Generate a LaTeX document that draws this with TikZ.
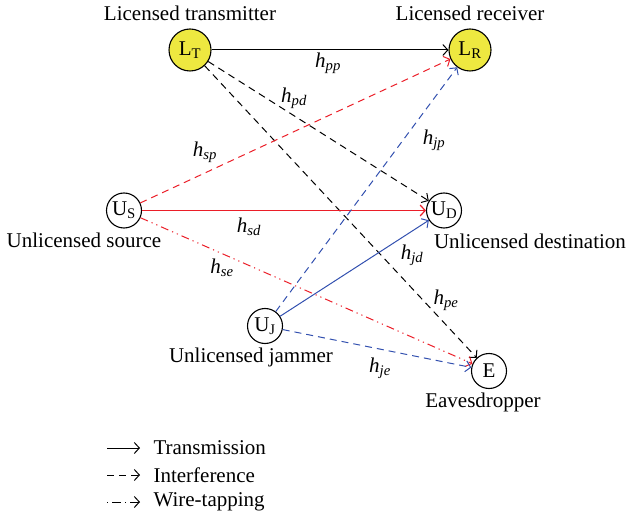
\documentclass[tikz,border=0pt]{standalone}
\usepackage{fontspec}
\setmainfont{Liberation Serif}
\usetikzlibrary{arrows.meta}
\definecolor{cred}{RGB}{235,30,40}
\definecolor{cblue}{RGB}{50,80,175}
\definecolor{cyel}{RGB}{238,232,64}
\newcommand\hh[1]{$\mathit{h}_{\mathit{#1}}$}
\begin{document}
\begin{tikzpicture}[x=1pt,y=-1pt,
  every node/.style={font=\fontsize{21}{25}\selectfont},
  dev/.style={circle,draw,line width=1.1pt,inner sep=0pt,minimum size=35pt},
  lic/.style={dev,fill=cyel,minimum size=42pt},
  lbl/.style={inner sep=1pt},
  link/.style={line width=1pt,-{Straight Barb[length=5pt,width=11pt]}},
  dsh/.style={dash pattern=on 7pt off 5pt},
  tap/.style={dash pattern=on 8pt off 4pt on 1.2pt off 4pt on 1.2pt off 4pt}]
\useasboundingbox (0,0) rectangle (628,518);
\node[lic] (LT) at (190,50) {$\mathrm{L}_{\mathrm{T}}$};
\node[lic] (LR) at (470,50) {$\mathrm{L}_{\mathrm{R}}$};
\node[dev] (US) at (124,210.5) {$\mathrm{U}_{\mathrm{S}}$};
\node[dev] (UD) at (444,210.5) {$\mathrm{U}_{\mathrm{D}}$};
\node[dev] (UJ) at (265,326) {$\mathrm{U}_{\mathrm{J}}$};
\node[dev] (E) at (489,371) {E};
\node (tLT) at (190,13) {Licensed transmitter};
\node (tLR) at (470,13) {Licensed receiver};
\node (tUS) at (84,240) {Unlicensed source};
\node (tUD) at (530,241) {Unlicensed destination};
\node (tUJ) at (251,357) {Unlicensed jammer};
\node (tE) at (483,402) {Eavesdropper};
% links
\draw[link] (LT) -- (LR);
\draw[link,dsh] (LT) -- (UD);
\draw[link,dsh] (LT) -- (E);
\draw[link,dsh,cred] (US) -- (LR);
\draw[link,cred,line width=1.2pt] (US) -- (UD);
\draw[link,tap,cred] (US) -- (E);
\draw[link,dsh,cblue] (UJ) -- (LR);
\draw[link,cblue] (UJ) -- (UD);
\draw[link,dsh,cblue] (UJ) -- (E);
% labels
\node[lbl] (lpp) at (328,63) {\hh{pp}};
\node[lbl] (lpd) at (294,98) {\hh{pd}};
\node[lbl] (ljp) at (434,140) {\hh{jp}};
\node[lbl] (lsp) at (205,152) {\hh{sp}};
\node[lbl] (lsd) at (249,227) {\hh{sd}};
\node[lbl] (lse) at (222,268) {\hh{se}};
\node[lbl] (ljd) at (412,255) {\hh{jd}};
\node[lbl] (lpe) at (446,300) {\hh{pe}};
\node[lbl] (lje) at (380,368) {\hh{je}};
% legend
\coordinate (a1) at (107,448); \coordinate (b1) at (140,448);
\coordinate (a2) at (107,475); \coordinate (b2) at (140,475);
\coordinate (a3) at (107,502); \coordinate (b3) at (140,502);
\draw[link] (a1) -- (b1);
\draw[link,dash pattern=on 7pt off 5pt] (a2) -- (b2);
\draw[link,dash pattern=on 1.2pt off 4pt on 9pt off 4pt] (a3) -- (b3);
\node[anchor=west] (g1) at (150,448) {Transmission};
\node[anchor=west] (g2) at (150,475) {Interference};
\node[anchor=west] (g3) at (150,502) {Wire-tapping};
\end{tikzpicture}
\end{document}
